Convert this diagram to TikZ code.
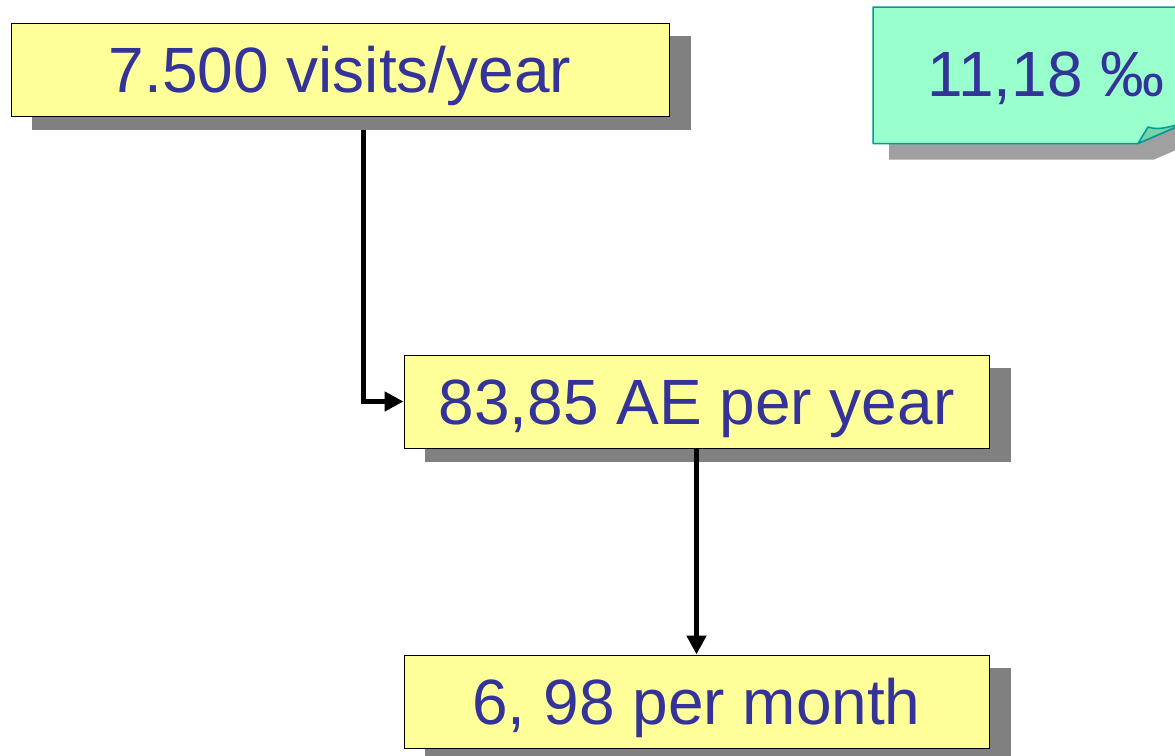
\documentclass[tikz,border=0pt]{standalone}
\usepackage{fontspec}
\setmainfont{Liberation Sans}
\usetikzlibrary{arrows.meta}
\definecolor{boxfill}{HTML}{FFFF99}
\definecolor{txtblue}{HTML}{333399}
\definecolor{shadowgray}{HTML}{808080}
\definecolor{notefill}{HTML}{99FFCC}
\definecolor{noteborder}{HTML}{009999}
\definecolor{foldfill}{HTML}{77D4A8}
\definecolor{noteshadow}{HTML}{A0A0A0}
\pgfdeclarelayer{bg}
\pgfsetlayers{bg,main}
\begin{document}
\begin{tikzpicture}[x=1pt,y=-1pt,
  bigtext/.style={text=txtblue, font=\fontsize{64}{64}\selectfont, text height=45.8pt, text depth=0pt, inner sep=0pt},
  box/.style={bigtext, draw=black, line width=1pt, fill=boxfill, minimum height=93pt},
  conn/.style={line width=5pt, -{Triangle[length=19pt,width=19pt]}},
  boxshadow/.style={fill=shadowgray},
  noteshape/.style={draw=noteborder, line width=1.5pt, line join=round}]
\useasboundingbox (0,0) rectangle (1175,755);
\clip (0,0) rectangle (1175,755);

% boxes
\node[box, minimum width=658pt] (b1) at (340,69.5) {7.500 visits/year};
\node[box, minimum width=585pt] (b2) at (696.5,401.5) {83,85 AE per year};
\node[box, minimum width=585pt] (b3) at (696.5,701.5) {6, 98 per month};

\begin{pgfonlayer}{bg}
  \draw[conn] ([xshift=23pt]b1.south) |- (b2.west);
  \foreach \b in {b1,b2,b3}{
    \fill[boxshadow] ([shift={(21,13)}]\b.north west) rectangle ([shift={(21,13)}]\b.south east);
  }
\end{pgfonlayer}

\draw[conn] (b2) -- (b3);

% note
\fill[noteshadow, shift={(16,16)}] (873,7) -- (1240,7) -- (1240,99.5) -- (1138,143.5) -- (873,143.5) -- cycle;
\draw[noteshape, fill=notefill] (873,7) -- (1240,7) -- (1240,99.5) -- (1138,143.5) -- (873,143.5) -- cycle;
\draw[noteshape, fill=foldfill] (1138,143.5) -- (1148,127) .. controls (1160,131) and (1172,126) .. (1190,121) -- cycle;
\node[bigtext] (note) at (1046,73.5) {11,18 ‰};
\end{tikzpicture}
\end{document}
